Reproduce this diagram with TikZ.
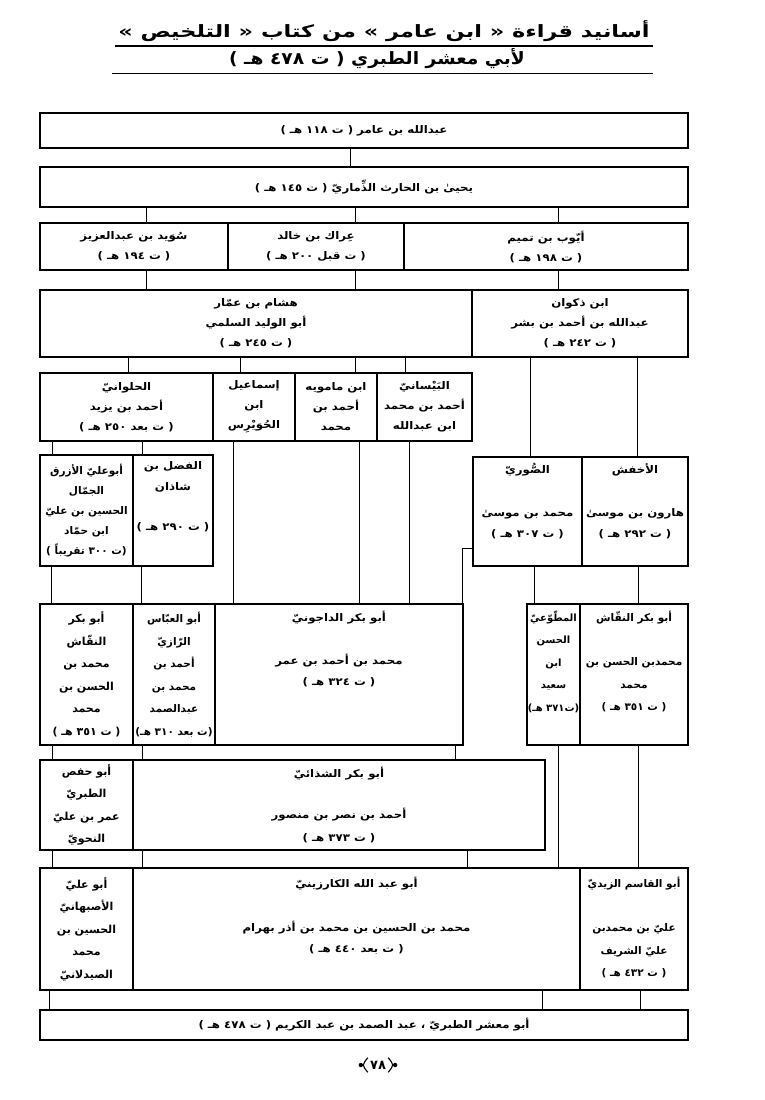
\documentclass[tikz,border=0pt]{standalone}
\usepackage{fontspec}
\newfontfamily\arfont[Script=Arabic]{DejaVu Sans}
\newfontfamily\arwide[Script=Arabic,FakeStretch=1.12]{DejaVu Sans}
\newfontfamily\arhead[Script=Arabic,FakeStretch=1.32]{DejaVu Sans}
\newfontfamily\arsub[Script=Arabic,FakeStretch=1.1]{DejaVu Sans}
\TeXXeTstate=1
\newcommand{\arline}[1]{\beginR #1\endR}
\usepackage{tikz}
\usetikzlibrary{positioning}

\tikzset{
  cell/.style={draw,line width=1.2pt,inner sep=0pt,align=center,
               font=\arwide\bfseries\fontsize{10.5}{20}\selectfont},
  narrow/.style={font=\arfont\bfseries\fontsize{11}{22.5}\selectfont},
  txt/.style={inner sep=0pt,align=center,anchor=north,
              font=\arwide\bfseries\fontsize{10.5}{21}\selectfont},
  link/.style={line width=0.6pt},
  head/.style={inner sep=0pt,font=\arhead\bfseries\fontsize{17}{20}\selectfont},
  rule/.style={line width=1.6pt},
  ornament/.style={line width=1.1pt}
}

\begin{document}
\begin{tikzpicture}[x=1pt,y=-1pt]
  \useasboundingbox (0,0) rectangle (765,1100);

  % heading
  \node[head] (title) at (384,31) {\arline{أسانيد قراءة « ابن عامر » من كتاب « التلخيص »}};
  \node[head,font=\arsub\bfseries\fontsize{17}{20}\selectfont] (subtitle) at (377,59) {\arline{لأبي معشر الطبري ( ت ٤٧٨ هـ )}};
  \draw[rule] ([xshift=-3pt,yshift=-4pt]title.south west) -- ([xshift=3pt,yshift=-4pt]title.south east);
  \draw[rule] ([xshift=-6pt,yshift=-4pt]title.south west |- subtitle.south) -- ([xshift=3pt,yshift=-4pt]title.south east |- subtitle.south);

  % first two rows
  \node[cell,minimum width=648,minimum height=35] (amir) at (364,130.5) {\arline{عبدالله بن عامر ( ت ١١٨ هـ )}};
  \node[cell,minimum width=648,minimum height=40] (yahya) at (364,187) {\arline{يحيىٰ بن الحارث الذِّماريّ ( ت ١٤٥ هـ )}};

  % row 3
  \node[cell,minimum width=188,minimum height=47] (suwayd) at (134,246.5) {\arline{سُوَيد بن عبدالعزيز}\\\arline{( ت ١٩٤ هـ )}};
  \node[cell,minimum width=176,minimum height=47] (irak) at (316,246.5) {\arline{عِراك بن خالد}\\\arline{( ت قبل ٢٠٠ هـ )}};
  \node[cell,minimum width=284,minimum height=47] (ayyub) at (546,246.5) {\arline{أيّوب بن تميم}\\\arline{( ت ١٩٨ هـ )}};

  % row 4
  \node[cell,minimum width=432,minimum height=67] (hisham) at (256,323.5) {\arline{هشام بن عمّار}\\\arline{أبو الوليد السلمي}\\\arline{( ت ٢٤٥ هـ )}};
  \node[cell,minimum width=216,minimum height=67] (dhakwan) at (580,323.5) {\arline{ابن ذكوان}\\\arline{عبدالله بن أحمد بن بشر}\\\arline{( ت ٢٤٢ هـ )}};

  % row 5
  \node[cell,minimum width=173,minimum height=68] (hulwani) at (126.5,407) {\arline{الحلوانيّ}\\\arline{أحمد بن يزيد}\\\arline{( ت بعد ٢٥٠ هـ )}};
  \node[cell,minimum width=82,minimum height=68] (ismail) at (254,407) {\arline{إسماعيل}\\\arline{ابن}\\\arline{الحُوَيْرِس}};
  \node[cell,minimum width=82,minimum height=68] (mamawayh) at (336,407) {\arline{ابن مامويه}\\\arline{أحمد بن}\\\arline{محمد}};
  \node[cell,minimum width=95,minimum height=68] (baysani) at (424.5,407) {\arline{البَيْسانيّ}\\\arline{أحمد بن محمد}\\\arline{ابن عبدالله}};

  % row 6
  \node[cell,narrow,font=\arfont\bfseries\fontsize{10.5}{20}\selectfont,minimum width=93,minimum height=111] (azraq) at (86.5,510.5) {\arline{أبوعليّ الأزرق}\\\arline{الجمّال}\\\arline{الحسين بن عليّ}\\\arline{ابن حمّاد}\\\arline{(ت ٣٠٠ تقريباً )}};
  \node[cell,minimum width=80,minimum height=111] (fadl) at (173,510.5) {};
  \node[cell,minimum width=109,minimum height=109] (suri) at (527.5,511.5) {};
  \node[cell,minimum width=106,minimum height=109] (akhfash) at (635,511.5) {};
  \node[txt] (fadl-t) at ([yshift=-7pt]fadl.north) {\arline{الفضل بن}\\\arline{شاذان}\\[19pt]\arline{( ت ٢٩٠ هـ )}};
  \node[txt] (suri-t) at ([yshift=-7pt]suri.north) {\arline{الصُّوريّ}\\[22pt]\arline{محمد بن موسىٰ}\\\arline{( ت ٣٠٧ هـ )}};
  \node[txt] (akhfash-t) at ([yshift=-7pt]akhfash.north) {\arline{الأخفش}\\[22pt]\arline{هارون بن موسىٰ}\\\arline{( ت ٢٩٢ هـ )}};

  % row 7
  \node[cell,narrow,minimum width=93,minimum height=141] (naqqasha) at (86.5,674.5) {\arline{أبو بكر}\\\arline{النقّاش}\\\arline{محمد بن}\\\arline{الحسن بن}\\\arline{محمد}\\\arline{( ت ٣٥١ هـ )}};
  \node[cell,narrow,font=\arfont\bfseries\fontsize{10.5}{22.5}\selectfont,minimum width=82,minimum height=141] (razi) at (174,674.5) {\arline{أبو العبّاس}\\\arline{الرّازيّ}\\\arline{أحمد بن}\\\arline{محمد بن}\\\arline{عبدالصمد}\\\arline{(ت بعد ٣١٠ هـ)}};
  \node[cell,minimum width=248,minimum height=141] (dajuni) at (339,674.5) {};
  \node[cell,minimum width=53,minimum height=141] (mutawwii) at (553.5,674.5) {};
  \node[cell,minimum width=108,minimum height=141] (naqqashb) at (634,674.5) {};
  \node[txt] (dajuni-t) at ([yshift=-7pt]dajuni.north) {\arline{أبو بكر الداجونيّ}\\[22pt]\arline{محمد بن أحمد بن عمر}\\\arline{( ت ٣٢٤ هـ )}};
  \node[txt,font=\arfont\bfseries\fontsize{10}{22.5}\selectfont] (mutawwii-t) at ([yshift=-7pt]mutawwii.north) {\arline{المطّوّعيّ}\\\arline{الحسن}\\\arline{ابن}\\\arline{سعيد}\\\arline{(ت٣٧١ هـ)}};
  \node[txt,font=\arfont\bfseries\fontsize{10.5}{22.5}\selectfont] (naqqashb-t) at ([yshift=-7pt]naqqashb.north) {\arline{أبو بكر النقّاش}\\[22pt]\arline{محمدبن الحسن بن}\\\arline{محمد}\\\arline{( ت ٣٥١ هـ )}};

  % row 8
  \node[cell,narrow,minimum width=93,minimum height=90] (hafs) at (86.5,805) {\arline{أبو حفص}\\\arline{الطبريّ}\\\arline{عمر بن عليّ}\\\arline{النحويّ}};
  \node[cell,minimum width=412,minimum height=90] (shadhai) at (339,805) {};
  \node[txt,font=\arwide\bfseries\fontsize{10.5}{22.5}\selectfont] (shadhai-t) at ([yshift=-7pt]shadhai.north) {\arline{أبو بكر الشذائيّ}\\[19pt]\arline{أحمد بن نصر بن منصور}\\\arline{( ت ٣٧٣ هـ )}};

  % row 9
  \node[cell,narrow,minimum width=93,minimum height=122] (isbahani) at (86.5,929) {\arline{أبو عليّ}\\\arline{الأصبهانيّ}\\\arline{الحسين بن}\\\arline{محمد}\\\arline{الصيدلانيّ}};
  \node[cell,minimum width=447,minimum height=122] (karzini) at (356.5,929) {};
  \node[cell,minimum width=108,minimum height=122] (zaydi) at (634,929) {};
  \node[txt] (karzini-t) at ([yshift=-9pt]karzini.north) {\arline{أبو عبد الله الكارزينيّ}\\[23pt]\arline{محمد بن الحسين بن محمد بن أذر بهرام}\\\arline{( ت بعد ٤٤٠ هـ )}};
  \node[txt,font=\arfont\bfseries\fontsize{10.5}{22.5}\selectfont] (zaydi-t) at ([yshift=-9pt]zaydi.north) {\arline{أبو القاسم الزيديّ}\\[22pt]\arline{عليّ بن محمدبن}\\\arline{عليّ الشريف}\\\arline{( ت ٤٣٢ هـ )}};

  % last row
  \node[cell,minimum width=648,minimum height=30] (mashar) at (364,1025) {\arline{أبو معشر الطبريّ ، عبد الصمد بن عبد الكريم ( ت ٤٧٨ هـ )}};

  % page number with its ornate brackets
  \node[inner sep=1pt,font=\arfont\bfseries\fontsize{13}{15}\selectfont] (page) at (378,1065) {٧٨};
  \draw[ornament] ([xshift=-1pt,yshift=2pt]page.north west) .. controls ([xshift=-7pt]page.west) .. ([xshift=-1pt,yshift=-2pt]page.south west);
  \draw[ornament] ([xshift=1pt,yshift=2pt]page.north east) .. controls ([xshift=7pt]page.east) .. ([xshift=1pt,yshift=-2pt]page.south east);
  \fill ([xshift=-8pt]page.west) circle (2.2pt);
  \fill ([xshift=8pt]page.east) circle (2.2pt);

  % connectors
  \foreach \x/\a/\b in {350/amir/yahya,
      146/yahya/suwayd,355/yahya/irak,558/yahya/ayyub,
      146/suwayd/hisham,355/irak/hisham,558/ayyub/dhakwan,
      128/hisham/hulwani,240/hisham/ismail,355/hisham/mamawayh,405/hisham/baysani,
      530/dhakwan/suri,637/dhakwan/akhfash,
      52/hulwani/azraq,142/hulwani/fadl,
      233/ismail/dajuni,359/mamawayh/dajuni,409/baysani/dajuni,
      534/suri/mutawwii,638/akhfash/naqqashb,
      51/azraq/naqqasha,141/fadl/razi,
      52/naqqasha/hafs,142/razi/shadhai,455/dajuni/shadhai,
      558/mutawwii/karzini,638/naqqashb/zaydi,
      52/hafs/isbahani,142/shadhai/karzini,467/shadhai/karzini,
      49/isbahani/mashar,542/karzini/mashar,640/zaydi/mashar}
    \draw[link] (\a.south -| \x,0) -- (\b.north -| \x,0);
  \draw[link] (suri.west |- 0,548) -| (dajuni.north -| 462,0);
\end{tikzpicture}
\end{document}
